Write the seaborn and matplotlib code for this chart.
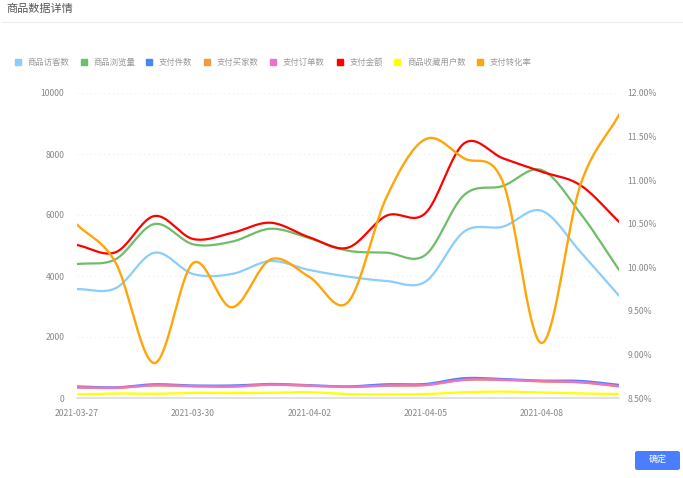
import numpy as np
import pandas as pd
import seaborn as sns
import matplotlib.pyplot as plt
from matplotlib.patches import FancyBboxPatch, Rectangle

dates = pd.date_range('2021-03-27', periods=15).strftime('%Y-%m-%d').tolist()

visitors = [3570, 3600, 4765, 4065, 4065, 4490, 4197, 3980, 3836, 3815, 5455, 5617, 6140, 4797, 3354]
views = [4390, 4553, 5705, 5040, 5125, 5550, 5240, 4830, 4765, 4690, 6656, 6950, 7475, 6060, 4200]
pay_items = [380, 350, 450, 410, 410, 460, 420, 380, 450, 460, 650, 620, 570, 560, 430]
pay_buyers = [340, 330, 410, 380, 370, 430, 400, 360, 400, 420, 590, 590, 540, 510, 380]
pay_orders = [350, 335, 420, 390, 380, 440, 405, 365, 410, 430, 600, 600, 550, 520, 390]
pay_amount = [5016, 4780, 5967, 5213, 5410, 5747, 5270, 4930, 5980, 6060, 8350, 7860, 7420, 6980, 5780]
fav_users = [120, 150, 140, 170, 160, 170, 190, 130, 120, 130, 190, 210, 180, 150, 130]
pay_rate = [10.49, 10.05, 8.9, 10.05, 9.54, 10.09, 9.89, 9.6, 10.81, 11.47, 11.25, 10.98, 9.13, 10.94, 11.75]

names = ['商品访客数', '商品浏览量', '支付件数', '支付买家数', '支付订单数', '支付金额', '商品收藏用户数', '支付转化率']
colors = ['#8bcdfb', '#6cbf68', '#4a86f5', '#f09a45', '#ee70c8', '#ff0000', '#ffff00', '#ffa50a']
left_series = [visitors, views, pay_items, pay_buyers, pay_orders, pay_amount, fav_users]
left_ticks = [0, 2000, 4000, 6000, 8000, 10000]
right_ticks = [8.5, 9, 9.5, 10, 10.5, 11, 11.5, 12]
tick_every = 3


# smooth line between the read values, the charts library did the same
def smooth(values, steps=20):
    y = np.array(values, dtype=float)
    slope = np.gradient(y)
    xs, ys = [], []
    for i in range(len(y) - 1):
        t = np.linspace(0, 1, steps, endpoint=False)
        h00 = 2 * t**3 - 3 * t**2 + 1
        h10 = t**3 - 2 * t**2 + t
        h01 = -2 * t**3 + 3 * t**2
        h11 = t**3 - t**2
        xs.extend(i + t)
        ys.extend(h00 * y[i] + h10 * slope[i] + h01 * y[i + 1] + h11 * slope[i + 1])
    xs.append(len(y) - 1)
    ys.append(y[-1])
    return xs, ys


sns.set_theme(style='white')
plt.rcParams['font.family'] = ['Noto Sans CJK SC', 'DejaVu Sans']

W, H = 683, 478
fig = plt.figure(figsize=(W / 100, H / 100), dpi=100)
ax = fig.add_axes([77 / W, 1 - 398 / H, (619 - 77) / W, (398 - 93) / H])

for values, color, name in zip(left_series, colors, names):
    xs, ys = smooth(values)
    sns.lineplot(x=xs, y=ys, color=color, linewidth=1.6, ax=ax, estimator=None, sort=False)

ax.set_xlim(0, len(dates) - 1)
ax.set_ylim(0, 10000)
ax.set_yticks(left_ticks)
ax.set_xticks(range(0, len(dates), tick_every))
ax.set_xticklabels(dates[::tick_every])
ax.tick_params(axis='x', length=3, width=0.8, color='#dddddd', labelsize=6.2, labelcolor='#888888', pad=5)
ax.tick_params(axis='y', length=0, labelsize=6.2, labelcolor='#888888', pad=9)
ax.grid(axis='y', color='#eeeeee', linestyle=(0, (1, 3)), linewidth=0.8)
ax.set_axisbelow(True)
sns.despine(ax=ax, left=True)
ax.spines['bottom'].set_color('#dddddd')

ax2 = ax.twinx()
xs, ys = smooth(pay_rate)
sns.lineplot(x=xs, y=ys, color=colors[-1], linewidth=1.7, ax=ax2, estimator=None, sort=False)
ax2.set_ylim(8.5, 12)
ax2.set_yticks(right_ticks)
ax2.set_yticklabels([f'{v:.2f}%' for v in right_ticks])
ax2.tick_params(axis='y', length=0, labelsize=6.2, labelcolor='#888888', pad=6)
ax2.grid(False)
ax2.set_ylabel('')
sns.despine(ax=ax2, left=True, right=True)
ax2.spines['bottom'].set_visible(False)

# page header
fig.text(6 / W, 1 - 9 / H, '商品数据详情', fontsize=8, color='#555555', va='center')
fig.add_artist(plt.Line2D([2 / W, 1], [1 - 22 / H, 1 - 22 / H], color='#eeeeee', linewidth=0.8))

# legend drawn by hand, the entries sit at fixed pixel spots
legend_x = [15, 81, 146, 204, 270, 337, 394, 477]
for lx, color, name in zip(legend_x, colors, names):
    fig.add_artist(Rectangle((lx / W, 1 - 65 / H), 6 / W, 6 / H, color=color, transform=fig.transFigure))
    fig.text((lx + 13) / W, 1 - 62 / H, name, fontsize=6, color='#999999', va='center')

# button
fig.add_artist(FancyBboxPatch((635 / W, 1 - 470 / H), 45 / W, 19 / H, boxstyle='round,pad=0,rounding_size=0.004',
                              facecolor='#4a7dff', edgecolor='none', transform=fig.transFigure))
fig.text(657.5 / W, 1 - 460.5 / H, '确定', fontsize=6.5, color='white', ha='center', va='center')

fig.savefig('out.png', dpi=100)
